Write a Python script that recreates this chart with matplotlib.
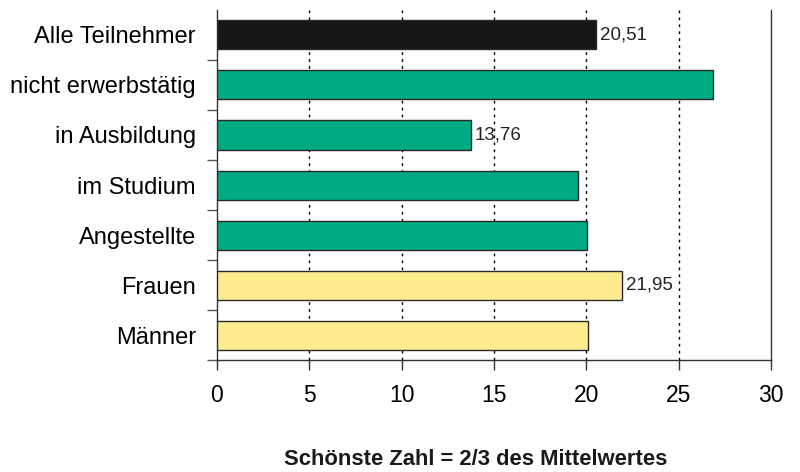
import numpy as np
import matplotlib
matplotlib.use("Agg")
from matplotlib import pyplot as plt
from matplotlib.ticker import FixedLocator

plt.rcParams['font.family'] = ['Liberation Sans', 'DejaVu Sans']

# data, top to bottom
categories = ["Alle Teilnehmer", "nicht erwerbstätig", "in Ausbildung",
              "im Studium", "Angestellte", "Frauen", "Männer"]
values = [20.51, 26.83, 13.76, 19.52, 20.05, 21.95, 20.10]
value_labels = ["20,51", None, "13,76", None, None, "21,95", None]
bar_colors = ["#151515", "#00AA82", "#00AA82", "#00AA82", "#00AA82",
              "#FEEC8E", "#FEEC8E"]
x_ticks = [0, 5, 10, 15, 20, 25, 30]

fig = plt.figure(figsize=(8, 4.72), dpi=100)
ax = fig.add_axes([0.271, 0.237, 0.693, 0.742])

y = np.arange(len(categories))
ax.barh(y, values, height=0.58, color=bar_colors,
        edgecolor="#2a2a2a", linewidth=1.0, zorder=3)

for yi, v, lab in zip(y, values, value_labels):
    if lab:
        ax.text(v + 0.2, yi, lab, va="center", ha="left", fontsize=13.5,
                color="#222222", zorder=4)

ax.set_xlim(0, 30)
ax.set_ylim(len(categories) - 0.5, -0.5)

ax.set_xticks(x_ticks)
ax.set_xticklabels([str(t) for t in x_ticks], fontsize=16.5)
ax.tick_params(axis="x", direction="out", length=7, width=1, pad=10,
               color="#333333")

ax.set_yticks(y)
ax.set_yticklabels(categories, fontsize=17)
ax.tick_params(axis="y", which="major", length=0, pad=15)
# small ticks between the categories and at the bottom
ax.yaxis.set_minor_locator(FixedLocator(np.arange(0.5, len(categories) + 0.5, 1.0)))
ax.tick_params(axis="y", which="minor", direction="out", length=7, width=1,
               color="#555555")

for gx in x_ticks[1:-1]:
    ax.axvline(gx, color="black", linestyle=(0, (2, 3)), linewidth=1, zorder=1)

ax.spines["top"].set_visible(False)
for s in ["left", "bottom", "right"]:
    ax.spines[s].set_color("#333333")
    ax.spines[s].set_linewidth(1)

fig.text(0.594, 0.027, "Schönste Zahl = 2/3 des Mittelwertes", ha="center",
         va="center", fontsize=15.8, fontweight="bold", color="#1a1a1a")

fig.savefig("out.png", dpi=100)
